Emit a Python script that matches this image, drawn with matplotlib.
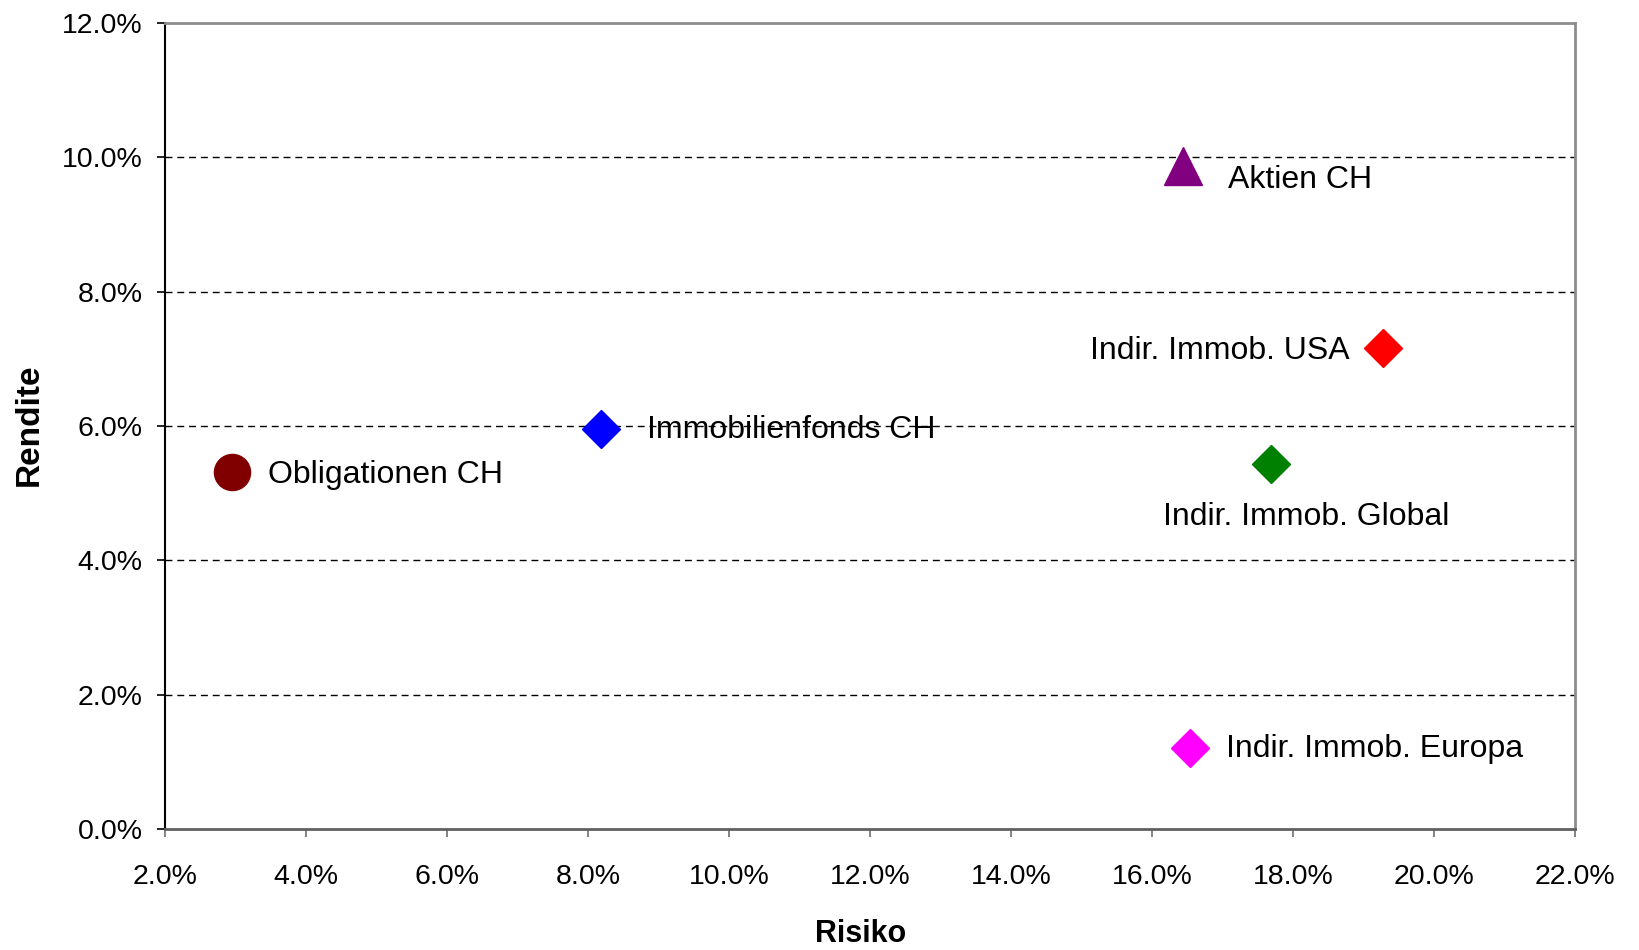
import matplotlib
matplotlib.use("Agg")
import matplotlib.pyplot as plt
from matplotlib.ticker import FuncFormatter

plt.rcParams['font.family'] = ['Liberation Sans', 'DejaVu Sans']

# Daten: Risiko / Rendite in Prozent
names = ['Obligationen CH', 'Immobilienfonds CH', 'Aktien CH',
         'Indir. Immob. USA', 'Indir. Immob. Global', 'Indir. Immob. Europa']
risiko = [2.95, 8.18, 16.44, 19.27, 17.69, 16.54]
rendite = [5.32, 5.96, 9.87, 7.16, 5.43, 1.20]

x_ticks = [2, 4, 6, 8, 10, 12, 14, 16, 18, 20, 22]
y_ticks = [0, 2, 4, 6, 8, 10, 12]

# Darstellung
colors = ['#800000', '#0000FF', '#800080', '#FF0000', '#008000', '#FF00FF']
markers = ['o', 'D', '^', 'D', 'D', 'D']
msizes = [26, 19, 28, 19, 19, 19]
# Beschriftung: Versatz in Pixel, horizontale Ausrichtung
offsets = [(36, -3), (46, -1), (45, -14), (-33, -3), (35, -53), (36, -1)]
aligns = ['left', 'left', 'left', 'right', 'center', 'left']

fig = plt.figure(figsize=(16.4, 9.5), dpi=100)
ax = fig.add_axes([0.1006, 0.1274, 0.8598, 0.8484])

for y in y_ticks[1:-1]:
    ax.axhline(y, color='black', lw=1, dashes=(5, 3.5), zorder=1)

for i, name in enumerate(names):
    ax.plot(risiko[i], rendite[i], marker=markers[i], ms=msizes[i],
            color=colors[i], mec=colors[i], ls='none', zorder=3, clip_on=False)
    ax.annotate(name, (risiko[i], rendite[i]), xytext=offsets[i],
                textcoords='offset pixels', ha=aligns[i], va='center',
                fontsize=23, color='black', zorder=4)

ax.set_xlim(2, 22)
ax.set_ylim(0, 12)
ax.set_xticks(x_ticks)
ax.set_yticks(y_ticks)
fmt = FuncFormatter(lambda v, p: f"{v:.1f}%")
ax.xaxis.set_major_formatter(fmt)
ax.yaxis.set_major_formatter(fmt)

ax.tick_params(axis='x', direction='out', length=6, width=1.2,
               color='#707070', pad=19, labelsize=20.5)
ax.tick_params(axis='y', direction='out', length=6, width=1.2,
               color='black', pad=10, labelsize=20.5)

ax.spines['left'].set_color('black')
ax.spines['left'].set_linewidth(1.5)
ax.spines['bottom'].set_color('#606060')
ax.spines['bottom'].set_linewidth(2)
for s in ['top', 'right']:
    ax.spines[s].set_color('#8c8c8c')
    ax.spines[s].set_linewidth(2)

fig.text(0.525, 0.0168, 'Risiko', ha='center', va='center',
         fontsize=22, fontweight='bold')
fig.text(0.0177, 0.5526, 'Rendite', ha='center', va='center',
         fontsize=24, fontweight='bold', rotation=90)

fig.savefig('out.png', dpi=100, facecolor='white')
